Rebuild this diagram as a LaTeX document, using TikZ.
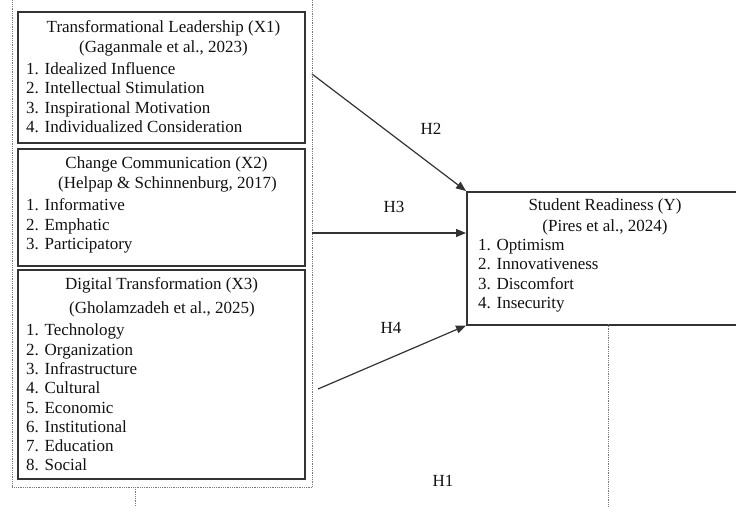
\documentclass[tikz,border=0pt]{standalone}
\usepackage{fontspec}
\setmainfont{Liberation Serif}
\usetikzlibrary{arrows.meta,calc}
\definecolor{lineC}{HTML}{333333}
\definecolor{dotC}{HTML}{7A7A7A}
\definecolor{txtC}{HTML}{111111}
\begin{document}
\begin{tikzpicture}[x=1pt,y=-1pt,
  solidbox/.style={draw=lineC,line width=1.5pt,inner sep=0pt,anchor=north west},
  groupbox/.style={draw=dotC,line width=0.8pt,densely dotted,inner sep=0pt,anchor=north west},
  dotline/.style={draw=dotC,line width=0.8pt,densely dotted},
  txt/.style={text=txtC,inner sep=0pt,font=\fontsize{17}{20}\selectfont},
  ttl/.style={txt,anchor=base},
  itm/.style={txt,anchor=base west},
  hyp/.style={txt,anchor=center},
  conn/.style={draw=lineC,line width=1.2pt,-{Triangle[length=10pt,width=8pt]}}
]
\useasboundingbox (0,0) rectangle (736,506);
\clip (0,0) rectangle (736,506);

% group (dotted) box
\node[groupbox,minimum width=300pt,minimum height=497pt] (grp) at (12,-10) {};

% X1
\node[solidbox,minimum width=287pt,minimum height=131pt] (x1) at (17,11) {};
\node[ttl] (x1t) at (163.5,32) {Transformational Leadership (X1)};
\node[ttl] (x1r) at (163.5,52) {(Gaganmale et al., 2023)};
\node[itm] (x1a) at (26,74) {1. Idealized Influence};
\node[itm] (x1b) at (26,93.5) {2. Intellectual Stimulation};
\node[itm] (x1c) at (26,113) {3. Inspirational Motivation};
\node[itm] (x1d) at (26,132.5) {4. Individualized Consideration};

% X2
\node[solidbox,minimum width=287pt,minimum height=117pt] (x2) at (17,148) {};
\node[ttl] (x2t) at (166.5,168) {Change Communication (X2)};
\node[ttl] (x2r) at (167.5,188) {(Helpap \& Schinnenburg, 2017)};
\node[itm] (x2a) at (26,210) {1. Informative};
\node[itm] (x2b) at (26,230) {2. Emphatic};
\node[itm] (x2c) at (26,249.5) {3. Participatory};

% X3
\node[solidbox,minimum width=287pt,minimum height=209pt] (x3) at (17,269) {};
\node[ttl] (x3t) at (161.5,289) {Digital Transformation (X3)};
\node[ttl] (x3r) at (162,313.5) {(Gholamzadeh et al., 2025)};
\node[itm] (x3a) at (26,335.5) {1. Technology};
\node[itm] (x3b) at (26,355) {2. Organization};
\node[itm] (x3c) at (26,374) {3. Infrastructure};
\node[itm] (x3d) at (26,393.5) {4. Cultural};
\node[itm] (x3e) at (26,413) {5. Economic};
\node[itm] (x3f) at (26,432) {6. Institutional};
\node[itm] (x3g) at (26,451) {7. Education};
\node[itm] (x3h) at (26,470) {8. Social};

% Y
\node[solidbox,minimum width=340pt,minimum height=133pt] (Y) at (466,191) {};
\node[ttl] (yt) at (605,210) {Student Readiness (Y)};
\node[ttl] (yr) at (605,231.5) {(Pires et al., 2024)};
\node[itm] (ya) at (478,250) {1. Optimism};
\node[itm] (yb) at (478,269.5) {2. Innovativeness};
\node[itm] (yc) at (478,289.5) {3. Discomfort};
\node[itm] (yd) at (478,308.5) {4. Insecurity};

% connector start points
\coordinate (s2) at (312,74);
\coordinate (s3) at (312,233);
\coordinate (s4) at (318,389);
\coordinate (e3) at (466,233);
\draw[conn] (s2) -- (Y.north west);
\draw[conn] (s3) -- (e3);
\draw[conn] (s4) -- (Y.south west);

% dotted verticals
\coordinate (d1a) at (135,487);
\coordinate (d1b) at (135,510);
\coordinate (d2a) at (608,324);
\coordinate (d2b) at (608,510);
\draw[dotline] (d1a) -- (d1b);
\draw[dotline] (d2a) -- (d2b);

% hypothesis labels
\node[hyp] (h2) at (431,129) {H2};
\node[hyp] (h3) at (394,207) {H3};
\node[hyp] (h4) at (391,328) {H4};
\node[hyp] (h1) at (443,481) {H1};
\end{tikzpicture}
\end{document}
